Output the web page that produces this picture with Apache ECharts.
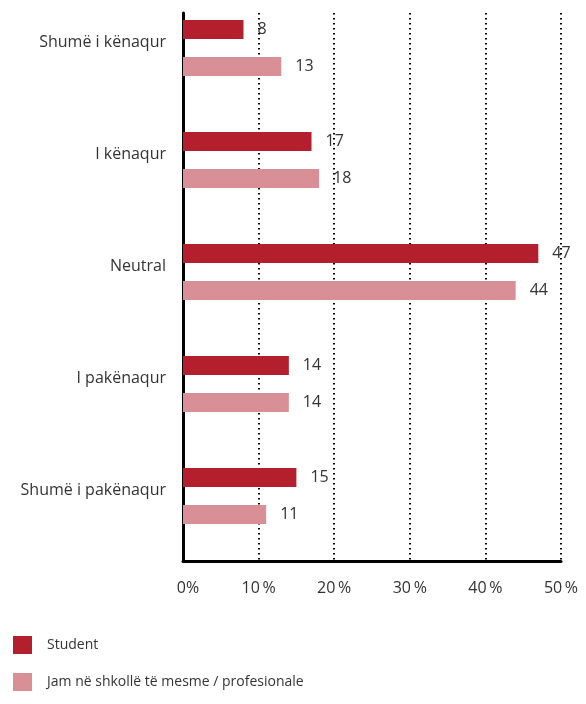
<!DOCTYPE html>
<html>
<head>
<meta charset="utf-8">
<script src="https://cdn.jsdelivr.net/npm/echarts@6/dist/echarts.min.js"></script>
<style>
  html, body { margin: 0; padding: 0; background: #fff; }
  #chart { width: 586px; height: 704px; }
</style>
</head>
<body>
<div id="chart"></div>
<script>
// Satisfaction levels, top to bottom
const categories = ['Shumë i kënaqur', 'I kënaqur', 'Neutral', 'I pakënaqur', 'Shumë i pakënaqur'];
const seriesNames = ['Student', 'Jam në shkollë të mesme / profesionale'];
const studentValues = [8, 17, 47, 14, 15];
const schoolValues = [13, 18, 44, 14, 11];
const xTicks = [0, 10, 20, 30, 40, 50];

const FONT = 'Open Sans';
const TEXT = '#333333';
const DARK = '#b31f2d';
const LIGHT = '#d88f95';

const chart = echarts.init(document.getElementById('chart'), null, { renderer: 'canvas' });

const valueLabel = {
  show: true,
  position: 'right',
  distance: 14,
  color: TEXT,
  fontFamily: FONT,
  fontSize: 16
};

chart.setOption({
  animation: false,
  textStyle: { fontFamily: FONT },
  legend: {
    orient: 'vertical',
    left: 13,
    top: 636,
    padding: 0,
    itemWidth: 19,
    itemHeight: 18,
    itemGap: 19,
    icon: 'rect',
    textStyle: { color: TEXT, fontSize: 14, fontFamily: FONT, padding: [0, 0, 0, 10] },
    data: seriesNames
  },
  grid: [
    // frame with the axes and dotted gridlines
    { left: 183, top: 13, width: 378, height: 548, containLabel: false, outerBoundsMode: 'none' },
    // band area holding the bars (its top sits a little above the frame)
    { left: 183, top: -8, width: 378, height: 560, containLabel: false, outerBoundsMode: 'none' }
  ],
  xAxis: [
    {
      gridIndex: 0,
      type: 'value',
      min: xTicks[0],
      max: xTicks[xTicks.length - 1],
      interval: xTicks[1] - xTicks[0],
      axisLine: { show: true, lineStyle: { color: '#000', width: 3 } },
      axisTick: { show: false },
      splitLine: {
        show: true,
        lineStyle: { color: '#000', width: 2, type: [1.5, 3.5] }
      },
      axisLabel: {
        margin: 19,
        color: TEXT,
        fontSize: 16,
        fontFamily: FONT,
        formatter: v => v === 0 ? '{z|0%}' : v + '\u2009%',
        rich: { z: { color: TEXT, fontSize: 16, fontFamily: FONT, padding: [0, 0, 0, 10] } }
      }
    },
    {
      gridIndex: 1,
      type: 'value',
      min: xTicks[0],
      max: xTicks[xTicks.length - 1],
      interval: xTicks[1] - xTicks[0],
      show: false,
      splitLine: { show: false }
    }
  ],
  yAxis: [
    {
      gridIndex: 0,
      type: 'value',
      min: 0,
      max: 1,
      axisLine: { show: true, lineStyle: { color: '#000', width: 3 } },
      axisTick: { show: false },
      axisLabel: { show: false },
      splitLine: { show: false }
    },
    {
      gridIndex: 1,
      type: 'category',
      inverse: true,
      data: categories,
      axisLine: { show: false },
      axisTick: { show: false },
      splitLine: { show: false },
      axisLabel: {
        margin: 17,
        color: TEXT,
        fontSize: 16,
        fontFamily: FONT,
        verticalAlign: 'bottom',
        lineHeight: 12
      }
    }
  ],
  series: [
    {
      name: seriesNames[0],
      type: 'bar',
      xAxisIndex: 1,
      yAxisIndex: 1,
      data: studentValues,
      barWidth: 19,
      barGap: '95%',
      itemStyle: { color: DARK },
      label: valueLabel
    },
    {
      name: seriesNames[1],
      type: 'bar',
      xAxisIndex: 1,
      yAxisIndex: 1,
      data: schoolValues,
      barWidth: 19,
      barGap: '95%',
      itemStyle: { color: LIGHT },
      label: valueLabel
    }
  ]
});
</script>
</body>
</html>
